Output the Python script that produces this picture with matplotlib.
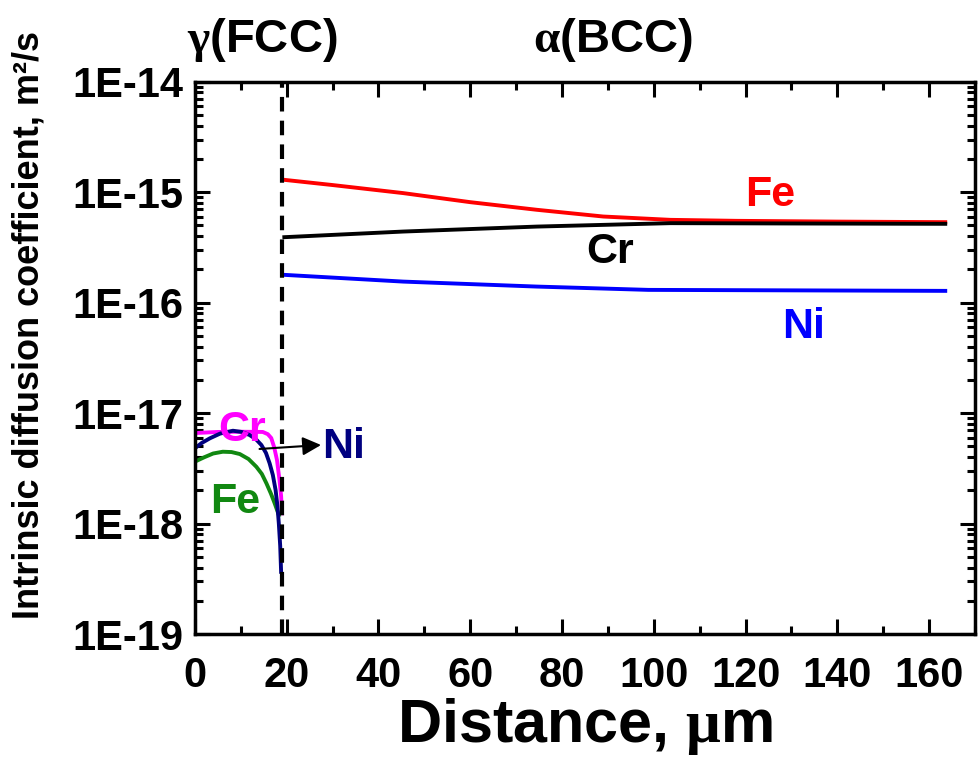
import numpy as np
import matplotlib.pyplot as plt
from matplotlib.ticker import MultipleLocator, FixedLocator, FuncFormatter, NullFormatter

plt.rcParams['font.family'] = 'Liberation Sans'
plt.rcParams['font.weight'] = 'bold'
plt.rcParams['mathtext.fontset'] = 'custom'
plt.rcParams['mathtext.rm'] = 'Liberation Serif'

# alpha (BCC) side, values as log10(D)
x_fe_bcc = [19.5, 30.0, 45.4, 60.0, 74.5, 89.0, 103.6, 118.0, 140.0, 163.5]
logd_fe_bcc = [-14.888, -14.935, -15.008, -15.09, -15.159, -15.220, -15.250, -15.259, -15.266, -15.271]
x_cr_bcc = [19.5, 45.4, 74.5, 103.6, 130.0, 163.5]
logd_cr_bcc = [-15.407, -15.356, -15.311, -15.280, -15.283, -15.286]
x_ni_bcc = [19.5, 45.4, 74.5, 98.8, 163.5]
logd_ni_bcc = [-15.748, -15.809, -15.854, -15.884, -15.893]

# gamma (FCC) side
x_cr_fcc = [0.0, 5.0, 10.0, 14.8, 15.9, 16.65, 17.3, 17.9, 18.45, 18.8, 19.0]
logd_cr_fcc = [-17.18, -17.17, -17.168, -17.17, -17.19, -17.225, -17.31, -17.424, -17.605, -17.75, -17.907]
x_ni_fcc = [0.0, 1.5, 3.26, 5.5, 8.3, 10.2, 11.9, 13.3, 14.5, 15.5, 16.3, 17.0, 17.6, 18.0, 18.3, 18.6, 18.8]
logd_ni_fcc = [-17.318, -17.27, -17.228, -17.185, -17.159, -17.17, -17.197, -17.235, -17.288, -17.36,
               -17.454, -17.56, -17.696, -17.84, -17.997, -18.2, -18.436]
x_fe_fcc = [0.0, 2.0, 4.0, 6.1, 8.0, 9.8, 11.7, 13.4, 14.6, 15.6, 16.6, 17.4, 18.3]
logd_fe_fcc = [-17.439, -17.40, -17.365, -17.349, -17.352, -17.37, -17.415, -17.485, -17.55, -17.635,
               -17.73, -17.816, -17.922]

x_interface = 19.1
decades = [-19, -18, -17, -16, -15, -14]


def to_d(logs):
    return 10.0 ** np.array(logs)


fig = plt.figure(figsize=(9.79, 7.64), dpi=100)
ax = fig.add_axes([0.199, 0.170, 0.797, 0.723])

lw = 2.8
ax.plot(x_fe_bcc, to_d(logd_fe_bcc), color='#ff0000', lw=lw)
ax.plot(x_cr_bcc, to_d(logd_cr_bcc), color='black', lw=lw)
ax.plot(x_ni_bcc, to_d(logd_ni_bcc), color='#0000ff', lw=lw)
ax.plot(x_cr_fcc, to_d(logd_cr_fcc), color='#ff00ff', lw=lw)
ax.plot(x_fe_fcc, to_d(logd_fe_fcc), color='#118811', lw=lw)
ax.plot(x_ni_fcc, to_d(logd_ni_fcc), color='#000080', lw=lw)

ax.axvline(x_interface, color='black', lw=3, ls=(0, (3.5, 2.2)))

ax.set_yscale('log')
ax.set_xlim(0, 170)
ax.set_ylim(1e-19, 1e-14)

ax.xaxis.set_major_locator(MultipleLocator(20))
ax.xaxis.set_minor_locator(MultipleLocator(10))
major_y = [10.0 ** d for d in decades]
minor_y = [m * 10.0 ** d for d in decades[:-1] for m in range(2, 10)]
ax.yaxis.set_major_locator(FixedLocator(major_y))
ax.yaxis.set_minor_locator(FixedLocator(minor_y))
ax.yaxis.set_minor_formatter(NullFormatter())
ax.yaxis.set_major_formatter(FuncFormatter(lambda v, p: '1E%d' % round(np.log10(v))))

ax.tick_params(which='both', direction='in', top=True, right=True, width=2.2)
ax.tick_params(which='major', length=11, labelsize=30)
ax.tick_params(which='minor', length=6)
ax.tick_params(axis='x', pad=16)
ax.tick_params(axis='y', pad=8)
for s in ax.spines.values():
    s.set_linewidth(2.5)

ax.set_xlabel(r'Distance, $\mathrm{\mu}$m', fontsize=44, fontweight='bold', labelpad=0)
ax.set_ylabel('Intrinsic diffusion coefficient, m²/s', fontsize=26, fontweight='bold')
ax.yaxis.set_label_coords(-0.19, 0.56)

fs = 31
ax.text(125.3, 10 ** -15.024, 'Fe', color='#ff0000', fontsize=fs, fontweight='bold', ha='center', va='center')
ax.text(90.5, 10 ** -15.54, 'Cr', color='black', fontsize=fs, fontweight='bold', ha='center', va='center')
ax.text(132.6, 10 ** -16.22, 'Ni', color='#0000ff', fontsize=fs, fontweight='bold', ha='center', va='center')
ax.text(10.4, 10 ** -17.15, 'Cr', color='#ff00ff', fontsize=fs, fontweight='bold', ha='center', va='center')
ax.text(8.9, 10 ** -17.80, 'Fe', color='#118811', fontsize=fs, fontweight='bold', ha='center', va='center')
ax.annotate('', xy=(27.5, 10 ** -17.288), xytext=(14.1, 10 ** -17.324),
            arrowprops=dict(arrowstyle='-|>', color='black', lw=1.5, mutation_scale=28,
                            shrinkA=0, shrinkB=0))
ax.text(27.8, 10 ** -17.31, 'Ni', color='#000080', fontsize=fs, fontweight='bold', ha='left', va='center')

trans = ax.get_xaxis_transform()
ax.text(14.8, 1.076, r'$\mathrm{\gamma}$(FCC)', transform=trans, fontsize=34, fontweight='bold',
        ha='center', va='center')
ax.text(91.2, 1.076, r'$\mathrm{\alpha}$(BCC)', transform=trans, fontsize=34, fontweight='bold',
        ha='center', va='center')

fig.savefig('out.png', dpi=100)
